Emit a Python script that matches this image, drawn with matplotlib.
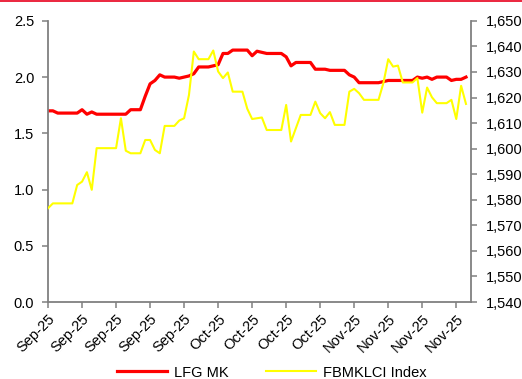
import matplotlib
matplotlib.use("Agg")
import matplotlib.pyplot as plt
import matplotlib.dates as mdates
from matplotlib.lines import Line2D
from matplotlib.ticker import FuncFormatter, MultipleLocator
import pandas as pd

plt.rcParams['font.family'] = ['Liberation Sans', 'DejaVu Sans']

# daily closes, 1 Sep - 26 Nov 2025
dates = pd.date_range('2025-09-01', periods=87, freq='D')

lfg = [
    1.70, 1.70, 1.68, 1.68, 1.68, 1.68, 1.68, 1.71, 1.67, 1.69,
    1.67, 1.67, 1.67, 1.67, 1.67, 1.67, 1.67, 1.71, 1.71, 1.71,
    1.83, 1.94, 1.97, 2.02, 2.00, 2.00, 2.00, 1.99, 2.00, 2.01,
    2.03, 2.09, 2.09, 2.09, 2.10, 2.11, 2.21, 2.21, 2.24, 2.24,
    2.24, 2.24, 2.19, 2.23, 2.22, 2.21, 2.21, 2.21, 2.21, 2.18,
    2.10, 2.13, 2.13, 2.13, 2.13, 2.07, 2.07, 2.07, 2.06, 2.06,
    2.06, 2.06, 2.02, 2.00, 1.95, 1.95, 1.95, 1.95, 1.95, 1.96,
    1.97, 1.97, 1.97, 1.97, 1.97, 1.97, 2.00, 1.99, 2.00, 1.98,
    2.00, 2.00, 2.00, 1.97, 1.98, 1.98, 2.00,
]

klci = [
    1576.7, 1578.6, 1578.6, 1578.6, 1578.6, 1578.6, 1585.8, 1587.1, 1590.8, 1583.9,
    1600.2, 1600.2, 1600.2, 1600.2, 1600.2, 1611.9, 1599.2, 1598.2, 1598.2, 1598.2,
    1603.4, 1603.4, 1599.5, 1598.2, 1608.9, 1608.9, 1608.9, 1611.0, 1611.9, 1621.0,
    1638.0, 1635.0, 1635.0, 1635.0, 1638.4, 1630.2, 1627.6, 1629.8, 1622.3, 1622.3,
    1622.3, 1615.6, 1611.6, 1611.9, 1612.2, 1607.3, 1607.3, 1607.3, 1607.3, 1617.1,
    1602.8, 1608.0, 1613.2, 1613.2, 1613.2, 1618.4, 1613.9, 1611.9, 1614.3, 1609.3,
    1609.3, 1609.3, 1622.3, 1623.4, 1621.7, 1619.1, 1619.1, 1619.1, 1619.1, 1625.6,
    1635.0, 1632.1, 1632.5, 1625.9, 1625.9, 1625.9, 1627.6, 1614.1, 1623.9, 1620.1,
    1617.8, 1617.8, 1617.8, 1619.1, 1611.6, 1624.6, 1617.5,
]

series_names = ['LFG MK', 'FBMKLCI Index']

grey = '#808080'
fs = 10.5

fig = plt.figure(figsize=(5.22, 3.79), dpi=100)
ax = fig.add_axes([0.092, 0.203, 0.81, 0.742])
ax2 = ax.twinx()

l1, = ax.plot(dates, lfg, color='#FF0000', lw=2.3, solid_joinstyle='round')
l2, = ax2.plot(dates, klci, color='#FFFF00', lw=1.5, solid_joinstyle='round')

ax.set_ylim(0, 2.5)
ax.yaxis.set_major_locator(MultipleLocator(0.5))
ax.yaxis.set_major_formatter(FuncFormatter(lambda v, p: f'{v:.1f}'))
ax2.set_ylim(1540, 1650)
ax2.yaxis.set_major_locator(MultipleLocator(10))
ax2.yaxis.set_major_formatter(FuncFormatter(lambda v, p: f'{v:,.0f}'))

ax.set_xlim(pd.Timestamp('2025-09-01'), pd.Timestamp('2025-11-27'))
ax.set_xticks(pd.date_range('2025-09-01', '2025-11-24', freq='7D'))
ax.xaxis.set_major_formatter(mdates.DateFormatter('%b-%y'))
for lbl in ax.get_xticklabels():
    lbl.set_rotation(45)
    lbl.set_ha('right')
    lbl.set_rotation_mode('anchor')

for a in (ax, ax2):
    a.spines['top'].set_visible(False)
    for s in ('left', 'right', 'bottom'):
        a.spines[s].set_color(grey)
        a.spines[s].set_linewidth(1.3)
    a.tick_params(colors=grey, width=1.1, length=4, direction='out',
                  labelsize=fs, labelcolor='black')
ax.spines['right'].set_visible(False)
ax2.spines['left'].set_visible(False)
ax2.spines['bottom'].set_visible(False)
ax.tick_params(axis='x', pad=3)
ax.tick_params(axis='y', pad=6)
ax2.tick_params(axis='y', pad=7)

fig.legend([l1, l2], series_names, loc='center', ncol=2, frameon=False,
           bbox_to_anchor=(0.521, 0.017), fontsize=fs, handlelength=3.4,
           columnspacing=2.6, handletextpad=0.5)

# thin red rule along the top edge
fig.add_artist(Line2D([0, 1], [0.998, 0.998], color='#E8001C', lw=1.2,
                      transform=fig.transFigure))

fig.savefig('out.png', dpi=100)
